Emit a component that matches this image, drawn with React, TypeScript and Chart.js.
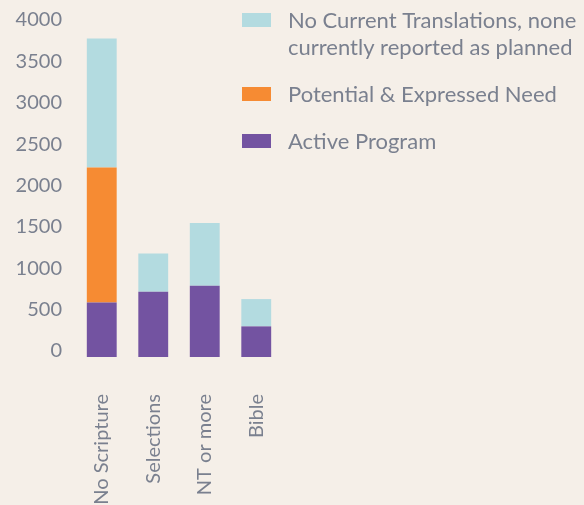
import React, { useEffect, useRef } from "react";
import { Chart, registerables } from "chart.js";

Chart.register(...registerables);

const categories = ["No Scripture", "Selections", "NT or more", "Bible"];
const activeProgram = [660, 790, 860, 370];
const potentialNeed = [1630, 0, 0, 0];
const noCurrent = [1560, 460, 760, 330];
const yTicks = [0, 500, 1000, 1500, 2000, 2500, 3000, 3500, 4000];
const legendLabels = {
  noCurrent: ["No Current Translations, none", "currently reported as planned"],
  potential: ["Potential & Expressed Need"],
  active: ["Active Program"],
};

const BG = "#f5efe8";
const TEXT = "#7a808f";
const FONT = "Lato, 'Open Sans', sans-serif";

const legendPlugin = {
  id: "customLegend",
  afterDraw(chart: any) {
    const ctx = chart.ctx;
    const ds = chart.data.datasets.slice().reverse();
    let y = 20;
    ctx.save();
    ctx.font = `22px ${FONT}`;
    ctx.fillStyle = TEXT;
    ctx.textBaseline = "middle";
    ds.forEach((d: any) => {
      const lines: string[] = d.legendLines;
      ctx.fillStyle = d.backgroundColor;
      ctx.fillRect(242, y - 7, 29, 14);
      ctx.fillStyle = TEXT;
      lines.forEach((ln, j) => {
        ctx.fillText(ln, 288, y + 1);
        if (j < lines.length - 1) y += 27;
      });
      y += 47;
    });
    ctx.restore();
  },
};

export default function App() {
  const ref = useRef<HTMLCanvasElement>(null);
  useEffect(() => {
    document.body.style.margin = "0";
    const common = { barPercentage: 0.58, categoryPercentage: 1 };
    const chart = new Chart(ref.current!, {
      type: "bar",
      data: {
        labels: categories,
        datasets: [
          { ...common, label: legendLabels.active.join(" "), legendLines: legendLabels.active, data: activeProgram, backgroundColor: "#7353a1" } as any,
          { ...common, label: legendLabels.potential.join(" "), legendLines: legendLabels.potential, data: potentialNeed, backgroundColor: "#f68b33" } as any,
          { ...common, label: legendLabels.noCurrent.join(" "), legendLines: legendLabels.noCurrent, data: noCurrent, backgroundColor: "#b3dbe0" } as any,
        ],
      },
      options: {
        animation: false,
        responsive: false,
        layout: { padding: { left: 0, right: 302, top: 24, bottom: 0 } },
        plugins: { legend: { display: false }, tooltip: { enabled: false } },
        scales: {
          x: {
            stacked: true,
            grid: { display: false, drawTicks: false },
            border: { display: false },
            ticks: {
              color: TEXT,
              font: { family: FONT, size: 20 },
              minRotation: 90,
              maxRotation: 90,
              padding: 37,
            },
            afterFit(scale: any) {
              scale.height = 148;
            },
          } as any,
          y: {
            stacked: true,
            min: 0,
            max: 4000,
            grid: { display: false, drawTicks: false },
            border: { display: false },
            afterBuildTicks(scale: any) {
              scale.ticks = yTicks.map((v) => ({ value: v }));
            },
            ticks: {
              color: TEXT,
              font: { family: FONT, size: 20 },
              padding: 14,
              labelOffset: -6,
              callback: (v: any) => String(v),
            },
            afterFit(scale: any) {
              scale.width = 76;
            },
          } as any,
        },
      },
      plugins: [legendPlugin],
    });
    return () => chart.destroy();
  }, []);
  return (
    <div style={{ position: "fixed", left: 0, top: 0, width: 584, height: 505, background: BG }}>
      <canvas ref={ref} width={584} height={505} style={{ width: 584, height: 505 }} />
    </div>
  );
}
